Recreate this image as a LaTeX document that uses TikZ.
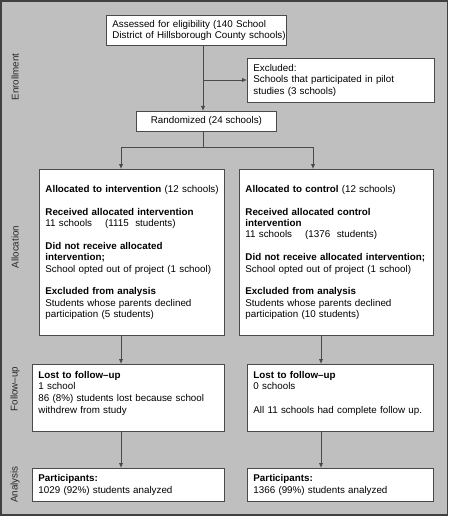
\documentclass[tikz,border=0pt]{standalone}
\usepackage{fontspec}
\setmainfont{Liberation Sans}
\usetikzlibrary{arrows.meta}
\definecolor{bggray}{HTML}{BFBFBF}
\definecolor{edgegray}{HTML}{404040}
\definecolor{linegray}{HTML}{4A4A4A}
\begin{document}
\begin{tikzpicture}[x=1pt,y=-1pt,
    box/.style={draw=linegray,fill=white,line width=0.9pt,anchor=north west,
      inner xsep=6pt,inner ysep=0pt,align=left,
      font=\fontsize{9.8}{11.6}\selectfont},
    phase/.style={rotate=90,font=\fontsize{9.8}{11.4}\selectfont,text=black!85},
    conn/.style={draw=linegray,line width=0.9pt},
    arr/.style={conn,-{Latex[length=5pt,width=4.5pt]}}]
      \useasboundingbox (0,0) rectangle (449,516);
      \draw [fill=bggray,draw=edgegray,line width=1.5pt] (1,1) rectangle (447.5,515);

      % phase labels
      \node [phase] (enrol) at (15,77) {Enrollment};
      \node [phase] (alloc) at (15,247) {Allocation};
      \node [phase] (follow) at (15,389) {Follow--up};
      \node [phase] (analy) at (15,484.5) {Analysis};

      % enrollment
      \node [box,text width=168pt,minimum height=30pt] (assess) at (106,15)
        {\mbox{Assessed for eligibility (140 School}\\
         \mbox{District of Hillsborough County schools)}};
      \node [box,text width=175pt,minimum height=44pt] (excl) at (247,58)
        {Excluded:\\\mbox{Schools that participated in pilot}\\studies (3 schools)};
      \node [box,align=center,minimum width=140pt,minimum height=20pt] (rand) at (136,111)
        {Randomized (24 schools)};

      % allocation
      \node [box,text width=173pt,minimum height=166pt,
             font=\fontsize{9.8}{11.4}\selectfont] (allocL) at (39,169)
        {\mbox{\textbf{Allocated to intervention} (12 schools)}\\[11.4pt]
         \mbox{\textbf{Received allocated intervention}}\\
         11 schools\quad\ (1115~ students)\\[11.4pt]
         \textbf{Did not receive allocated}\\
         \textbf{intervention;}\\
         \mbox{School opted out of project (1 school)}\\[11.4pt]
         \textbf{Excluded from analysis}\\
         \mbox{Students whose parents declined}\\
         participation (5 students)};
      \node [box,text width=182pt,minimum height=166pt,
             font=\fontsize{9.8}{11.4}\selectfont] (allocR) at (239,169)
        {\textbf{Allocated to control} (12 schools)\\[11.4pt]
         \textbf{Received allocated control}\\
         \textbf{intervention}\\
         11 schools\quad\ (1376~ students)\\[11.4pt]
         \mbox{\textbf{Did not receive allocated intervention;}}\\
         \mbox{School opted out of project (1 school)}\\[11.4pt]
         \textbf{Excluded from analysis}\\
         \mbox{Students whose parents declined}\\
         participation (10 students)};

      % follow-up
      \node [box,text width=180pt,minimum height=67pt] (fupL) at (32,364)
        {\textbf{Lost to follow--up}\\
         1 school\\
         \mbox{86 (8\%) students lost because school}\\
         withdrew from study\\
         \mbox{}};
      \node [box,text width=174pt,minimum height=67pt] (fupR) at (247,364)
        {\textbf{Lost to follow--up}\\
         0 schools\\
         \mbox{}\\
         \mbox{All 11 schools had complete follow up.}\\
         \mbox{}};

      % analysis
      \node [box,text width=180pt,minimum height=33pt] (anaL) at (32,468)
        {\textbf{Participants:}\\\mbox{1029 (92\%) students analyzed}};
      \node [box,text width=174pt,minimum height=33pt] (anaR) at (247,468)
        {\textbf{Participants:}\\\mbox{1366 (99\%) students analyzed}};

      % connectors
      \coordinate (mid) at (203,0);
      \coordinate (lx) at (121,0);
      \coordinate (rx) at (313,0);
      \coordinate (rxb) at (321,0);
      \coordinate (branch) at (203,80);
      \coordinate (fork) at (203,147);

      \draw [arr] (assess.south -| mid) -- (rand.north -| mid);
      \draw [arr] (branch) -- (branch -| excl.west);
      \draw [conn] (rand.south -| mid) -- (fork);
      \draw [arr] (fork) -| (allocL.north -| lx);
      \draw [arr] (fork) -| (allocR.north -| rx);

      \draw [arr] (allocL.south -| lx) -- (fupL.north -| lx);
      \draw [arr] (allocR.south -| rxb) -- (fupR.north -| rxb);
      \draw [arr] (fupL.south -| lx) -- (anaL.north -| lx);
      \draw [arr] (fupR.south -| rxb) -- (anaR.north -| rxb);
\end{tikzpicture}
\end{document}
